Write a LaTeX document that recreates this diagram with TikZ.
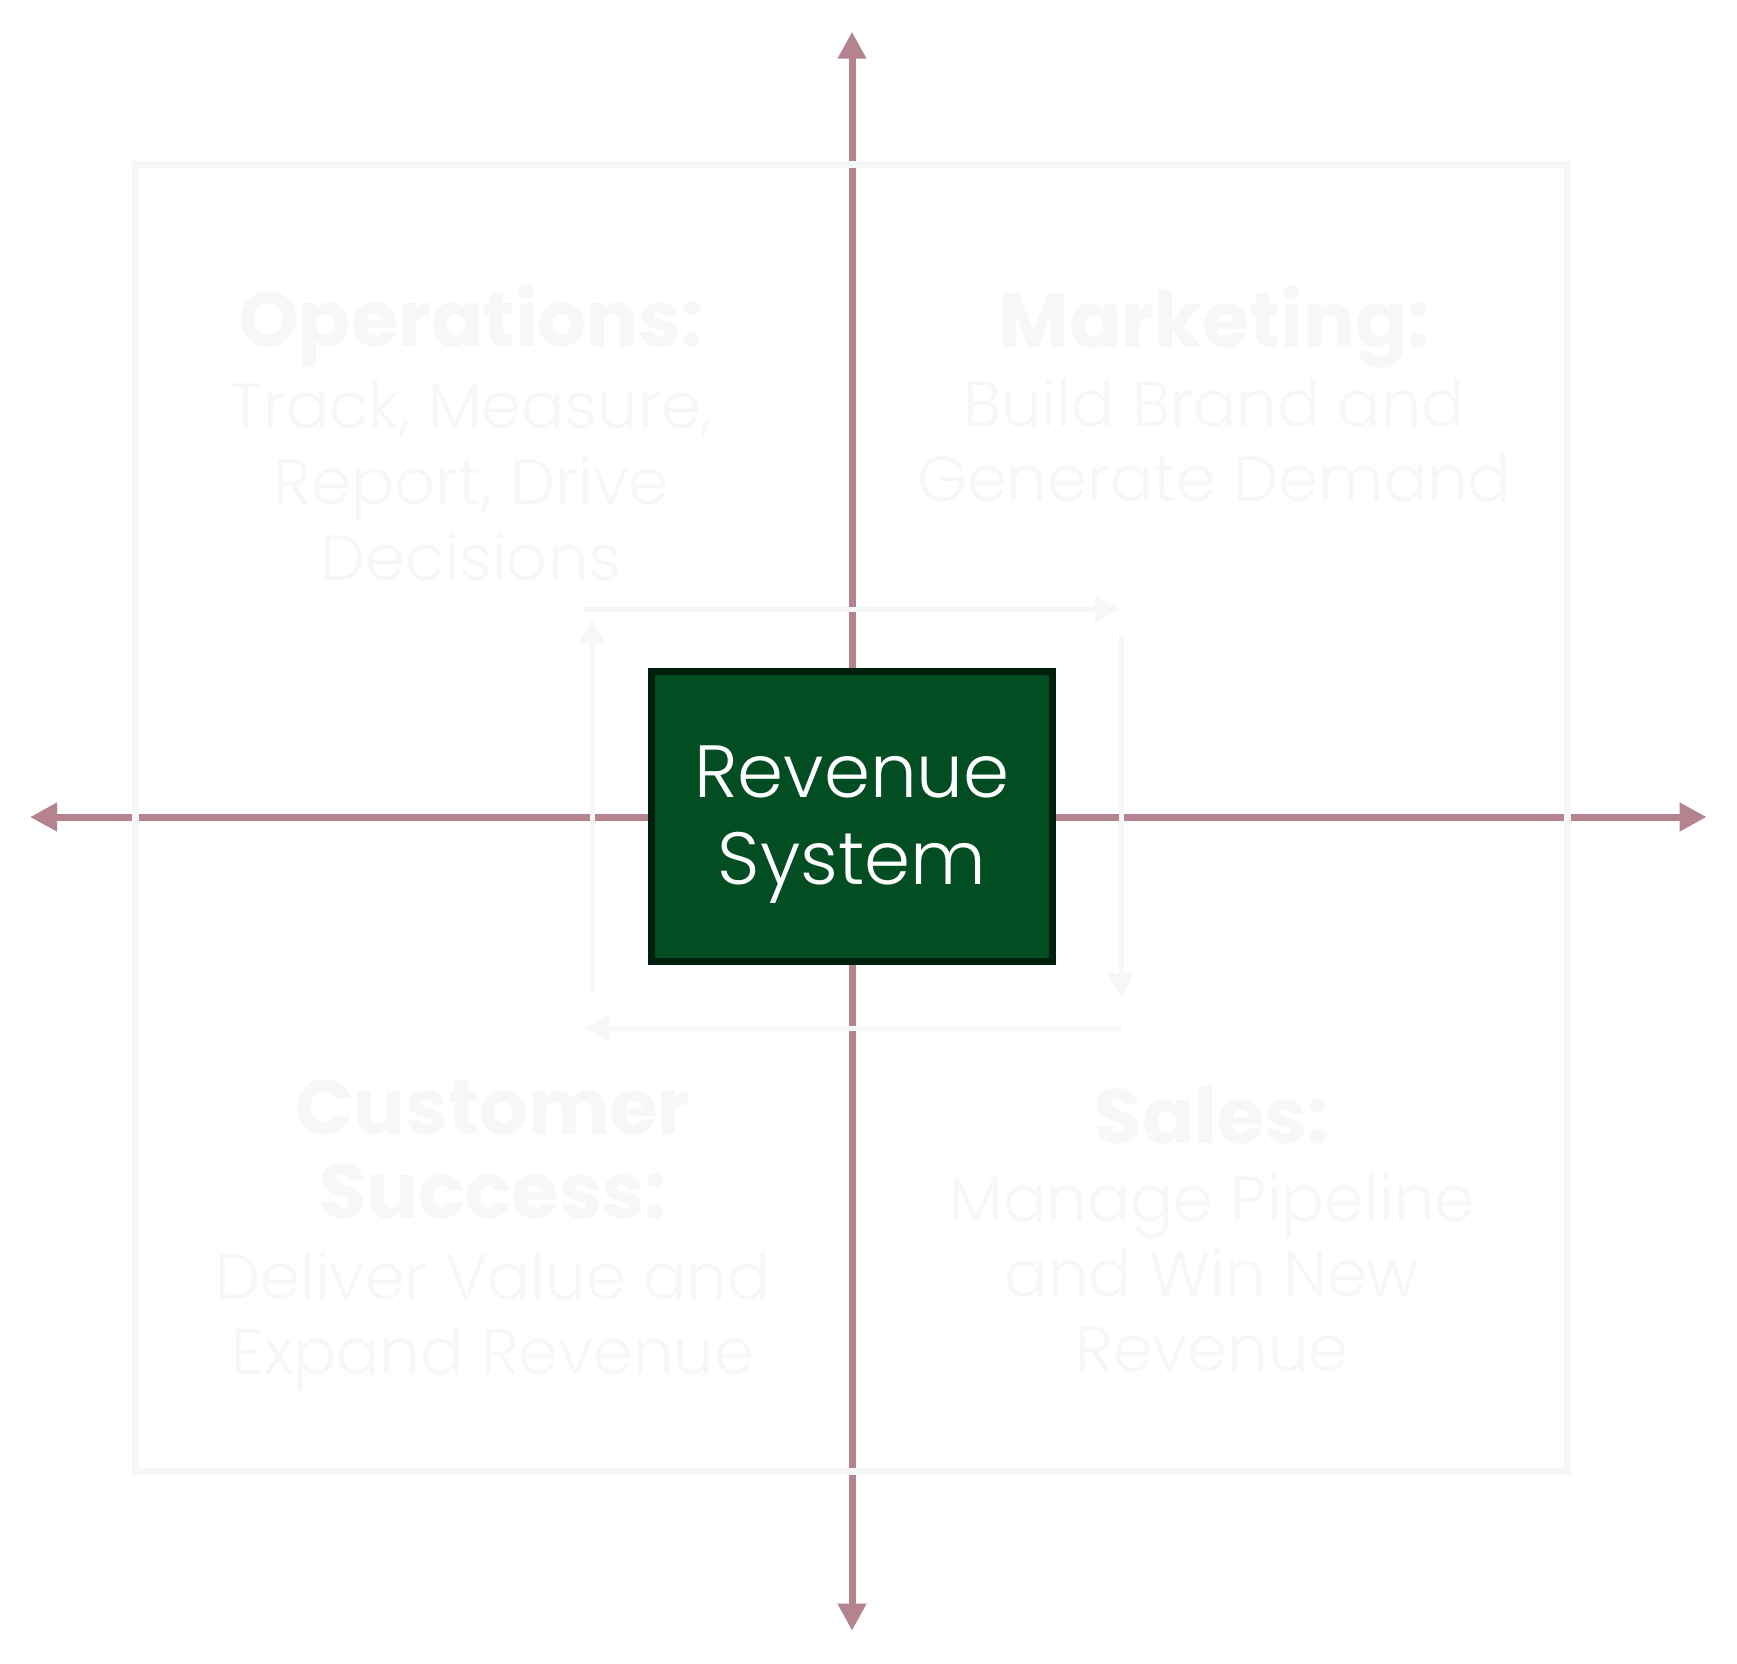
\documentclass[tikz,border=0pt]{standalone}
\usepackage{fontspec}
\setmainfont{Poppins}
\newfontfamily\lightfont{Poppins Light}
\usetikzlibrary{arrows.meta}
\definecolor{mauve}{RGB}{181,131,141}
\definecolor{rgreen}{RGB}{3,77,35}
\definecolor{rborder}{RGB}{0,30,12}
\definecolor{faint}{RGB}{246,247,249}
\begin{document}
\begin{tikzpicture}[x=1pt,y=-1pt,
  axisline/.style={draw=mauve, line width=7pt, {Triangle[length=27pt,width=27pt]}-{Triangle[length=27pt,width=27pt]}},
  frameline/.style={draw=faint, line width=7pt},
  cycarrow/.style={draw=faint, line width=5pt, -{Triangle[length=25pt,width=25pt]}},
  headtxt/.style={text=faint, font=\fontsize{77}{84}\selectfont\bfseries, anchor=base, inner sep=0pt},
  bodytxt/.style={text=faint, font=\lightfont\fontsize{64}{76}\selectfont, anchor=base, inner sep=0pt},
  centerbox/.style={draw=rborder, fill=rgreen, line width=6.7pt, minimum width=400.5pt, minimum height=290pt, inner sep=0pt, text=white, align=center, font=\lightfont\fontsize{74}{87}\selectfont},
]
\useasboundingbox (0,0) rectangle (1737,1663);
\fill[white] (0,0) rectangle (1737,1663);

% axis end points
\coordinate (axN) at (852,31.7);
\coordinate (axS) at (852,1630.7);
\coordinate (axW) at (30,817);
\coordinate (axE) at (1706.7,817);
\draw[axisline] (axN) -- (axS);
\draw[axisline] (axW) -- (axE);

% outer square
\coordinate (sqNW) at (135.5,164);
\coordinate (sqSE) at (1567,1471);
\draw[frameline] (sqNW) rectangle (sqSE);

% cycle arrows
\coordinate (c1) at (582.5,609);
\coordinate (c2) at (1120,609);
\coordinate (c3) at (1121,635);
\coordinate (c4) at (1121,998);
\coordinate (c5) at (1121,1028);
\coordinate (c6) at (584,1028);
\coordinate (c7) at (592,991);
\coordinate (c8) at (592,619);
\draw[cycarrow] (c1) -- (c2);
\draw[cycarrow] (c3) -- (c4);
\draw[cycarrow] (c5) -- (c6);
\draw[cycarrow] (c7) -- (c8);

% center box
\node[centerbox] (rev) at (852,816.5) {\rule{0pt}{68pt}Revenue\\System};

% Operations
\node[headtxt] (ops) at (471,346) {Operations:};
\node[bodytxt] (ops1) at (471,428) {Track, Measure,};
\node[bodytxt] (ops2) at (471,504) {Report, Drive};
\node[bodytxt] (ops3) at (471,580) {Decisions};

% Marketing
\node[headtxt] (mkt) at (1214,347) {Marketing:};
\node[bodytxt] (mkt1) at (1214,426) {Build Brand and};
\node[bodytxt] (mkt2) at (1214,501) {Generate Demand};

% Customer Success
\node[headtxt] (cs) at (493,1134) {Customer};
\node[headtxt] (cs0) at (493,1218) {Success:};
\node[bodytxt] (cs1) at (493,1299) {Deliver Value and};
\node[bodytxt] (cs2) at (493,1374) {Expand Revenue};

% Sales
\node[headtxt] (sal) at (1212,1143) {Sales:};
\node[bodytxt] (sal1) at (1212,1221) {Manage Pipeline};
\node[bodytxt] (sal2) at (1212,1296) {and Win New};
\node[bodytxt] (sal3) at (1212,1371) {Revenue};
\end{tikzpicture}
\end{document}
